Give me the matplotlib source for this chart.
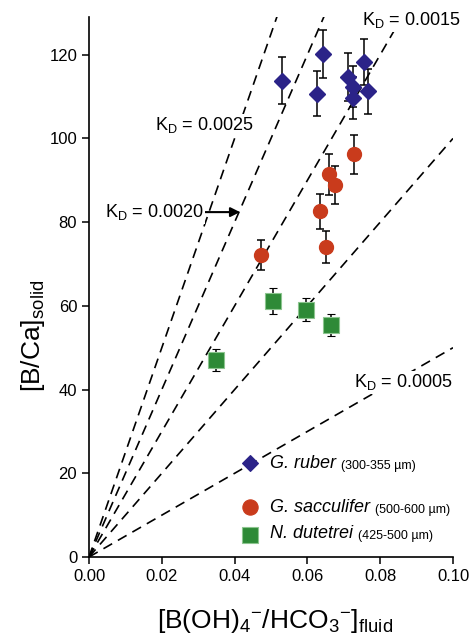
"""B/Ca solide contre [B(OH)4-/HCO3-] du fluide, avec droites de K_D."""

import matplotlib
matplotlib.use("Agg")
import matplotlib.pyplot as plt
import numpy as np

plt.rcParams["font.family"] = ["Liberation Sans", "DejaVu Sans"]
plt.rcParams["mathtext.fontset"] = "custom"
plt.rcParams["mathtext.rm"] = "Liberation Sans"
plt.rcParams["mathtext.it"] = "Liberation Sans:italic"

# G. ruber
ruber_x = [0.0529, 0.0644, 0.0626, 0.0712, 0.0755, 0.0726, 0.0724, 0.0767]
ruber_y = [113.8, 120.2, 110.7, 114.6, 118.2, 112.4, 109.6, 111.3]
ruber_err = [5.6, 5.7, 5.4, 5.7, 5.5, 5.0, 5.0, 5.4]

# G. sacculifer
sacc_x = [0.0472, 0.0635, 0.0651, 0.0658, 0.0676, 0.0728]
sacc_y = [72.1, 82.6, 74.1, 91.4, 88.9, 96.2]
sacc_err = [3.6, 4.2, 3.8, 4.9, 4.6, 4.6]

# N. dutetrei
dut_x = [0.0348, 0.0505, 0.0596, 0.0664]
dut_y = [47.0, 61.1, 59.1, 55.5]
dut_err = [2.6, 3.1, 2.8, 2.6]

kd_values = [0.0005, 0.0010, 0.0015, 0.0020, 0.0025]
kd_labels = {
    0.0005: (0.0728, 40.5),
    0.0015: (0.0749, 127.0),
    0.0025: (0.0181, 101.9),
}

fig = plt.figure(figsize=(4.77, 6.36), dpi=100)
ax = fig.add_axes([0.1866, 0.1242, 0.7631, 0.849])

xs = np.array([0.0, 0.10])
for kd in kd_values:
    ax.plot(xs, kd * 1e6 * xs, color="black", lw=1.2,
            linestyle=(0, (6, 4)), zorder=1)

err_kw = dict(ecolor="black", elinewidth=1.1, capsize=3.2, capthick=1.1,
              linestyle="none", zorder=3)
ax.errorbar(ruber_x, ruber_y, yerr=ruber_err, marker="D", ms=8,
            mfc="#2B2388", mec="#2B2388", **err_kw)
ax.errorbar(sacc_x, sacc_y, yerr=sacc_err, marker="o", ms=10,
            mfc="#C93B1C", mec="#C93B1C", **err_kw)
ax.errorbar(dut_x, dut_y, yerr=dut_err, marker="s", ms=11,
            mfc="#2E8A37", mec="#8CC58F", mew=0.8, **err_kw)

white_box = dict(facecolor="white", edgecolor="none", pad=1.0)
for kd, (tx, ty) in kd_labels.items():
    ax.text(tx, ty, r"K$_\mathrm{D}$ = %.4f" % kd, fontsize=13,
            ha="left", va="baseline", bbox=white_box, zorder=2)
ax.annotate(r"K$_\mathrm{D}$ = 0.0020", xy=(0.0415, 82.4), xytext=(0.0044, 81.2),
            fontsize=13, ha="left", va="baseline", bbox=white_box, zorder=2,
            arrowprops=dict(arrowstyle="-|>", color="black", lw=1.5,
                            mutation_scale=14, shrinkA=0, shrinkB=0))

# legende faite a la main (deux tailles de texte par ligne)
legend_rows = [
    ("D", 8, "#2B2388", "#2B2388", "G. ruber", "(300-355 µm)", 0.174, 0.164),
    ("o", 11, "#C93B1C", "#C93B1C", "G. sacculifer", "(500-600 µm)", 0.093, 0.083),
    ("s", 11, "#2E8A37", "#8CC58F", "N. dutetrei", "(425-500 µm)", 0.041, 0.036),
]
for marker, ms, fc, ec, name, size_txt, my, ty in legend_rows:
    ax.plot([0.442], [my], marker=marker, ms=ms, mfc=fc, mec=ec, mew=0.8,
            linestyle="none", transform=ax.transAxes, clip_on=False)
    t = ax.text(0.497, ty, name, fontsize=13, style="italic", ha="left",
                va="baseline", transform=ax.transAxes)
    ax.annotate(size_txt, xy=(1, 0), xycoords=t, xytext=(4, 0),
                textcoords="offset points", fontsize=9, ha="left", va="bottom")

ax.set_xlim(0, 0.10)
ax.set_ylim(0, 129)
ax.set_xticks([0.00, 0.02, 0.04, 0.06, 0.08, 0.10])
ax.set_xticklabels(["0.00", "0.02", "0.04", "0.06", "0.08", "0.10"])
ax.set_yticks([0, 20, 40, 60, 80, 100, 120])
ax.tick_params(labelsize=12, length=5, width=1.1, direction="out")
for side in ("top", "right"):
    ax.spines[side].set_visible(False)
for side in ("left", "bottom"):
    ax.spines[side].set_linewidth(1.2)

ax.set_xlabel(r"[B(OH)$_4$$^{-}$/HCO$_3$$^{-}$]$_\mathrm{fluid}$", fontsize=19)
ax.set_ylabel(r"[B/Ca]$_\mathrm{solid}$", fontsize=19)
ax.xaxis.set_label_coords(0.511, -0.093)
ax.yaxis.set_label_coords(-0.115, 0.41)

fig.savefig("out.png", dpi=100)
